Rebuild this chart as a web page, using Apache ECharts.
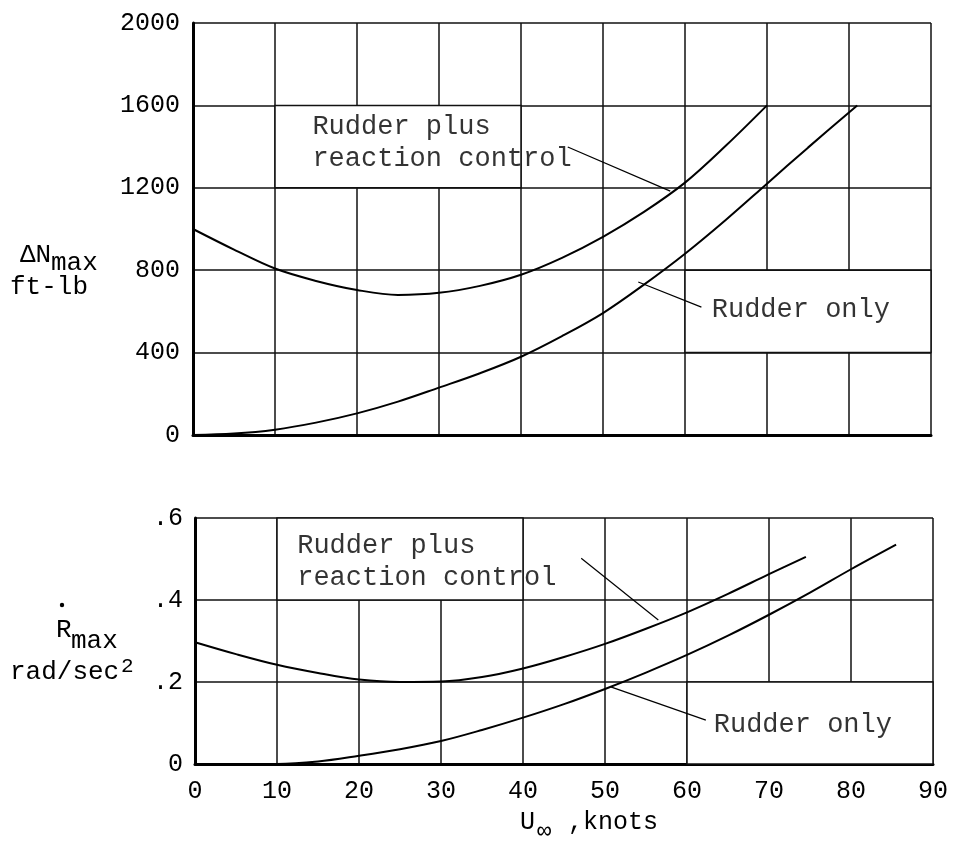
<!DOCTYPE html>
<html lang="en">
<head>
<meta charset="UTF-8">
<title>Rudder control moments</title>
<script src="https://cdn.jsdelivr.net/npm/echarts@6/dist/echarts.min.js"></script>
<style>
  html, body { margin: 0; padding: 0; background: #fff; }
  #chart { width: 957px; height: 843px; }
</style>
</head>
<body>
<div id="chart"></div>
<script>
// ---- data ----
const xTicks = [0, 10, 20, 30, 40, 50, 60, 70, 80, 90];
const momentTicks = [0, 400, 800, 1200, 1600, 2000];
const accelTicks = ['0', '.2', '.4', '.6'];

// top panel: delta N max, ft-lb
const speedTopPlus = [0, 5, 10, 15, 20, 25, 30, 35, 40, 45, 50, 55, 60, 65, 70];
const momentTopPlus = [1000, 900, 808, 748, 704, 680, 690, 724, 778, 860, 962, 1083, 1225, 1405, 1600];
const speedTopRudder = [0, 5, 10, 15, 20, 25, 30, 35, 40, 45, 50, 55, 60, 65, 70, 75, 81];
const momentTopRudder = [0, 7, 26, 60, 105, 162, 230, 300, 380, 480, 592, 730, 880, 1045, 1220, 1395, 1600];

// bottom panel: R-dot max, rad/sec^2
const speedBotPlus = [0, 5, 10, 15, 20, 25, 30, 35, 40, 45, 50, 55, 60, 65, 70, 74.5];
const accelBotPlus = [0.297, 0.268, 0.242, 0.222, 0.206, 0.200, 0.201, 0.212, 0.233, 0.261, 0.293, 0.330, 0.370, 0.415, 0.463, 0.505];
const speedBotRudder = [0, 10, 15, 20, 25, 30, 35, 40, 45, 50, 55, 60, 65, 70, 75, 80, 85.5];
const accelBotRudder = [0, 0, 0.006, 0.020, 0.036, 0.056, 0.083, 0.113, 0.146, 0.183, 0.223, 0.266, 0.313, 0.364, 0.418, 0.475, 0.535];

// annotations (data coordinates)
const topNotes = [
  { value: [14.5, 1417], name: 'Rudder plus\nreaction control' },
  { value: [63.2, 607], name: 'Rudder only' }
];
const topLeaders = [[[45.7, 1398], [58.2, 1184]], [[54.3, 743], [62.0, 621]]];
const topBoxes = [[[10, 1200], [40, 1600]], [[60, 400], [90, 800]]];

const botNotes = [
  { value: [12.4, 0.493], name: 'Rudder plus\nreaction control' },
  { value: [63.2, 0.095], name: 'Rudder only' }
];
const botLeaders = [[[47.1, 0.502], [56.5, 0.351]], [[50.7, 0.188], [62.3, 0.107]]];
const botBoxes = [[[10, 0.4], [40, 0.6]], [[60, 0], [90, 0.2]]];

const FONT = 'Liberation Mono, DejaVu Sans Mono, monospace';

function zip(xs, ys) { return xs.map((x, i) => [x, ys[i]]); }

function xAxisFor(grid, labels) {
  return {
    type: 'value', gridIndex: grid, min: 0, max: 90, interval: 10,
    axisLine: { show: true, lineStyle: { color: '#000', width: 3 } },
    axisTick: { show: false },
    axisLabel: {
      show: labels, margin: 15, color: '#000', fontFamily: FONT, fontSize: 25,
      formatter: v => xTicks.indexOf(v) >= 0 ? String(v) : ''
    },
    splitLine: { show: true, lineStyle: { color: '#111', width: 1.5 } }
  };
}

function curve(name, x, y, idx) {
  return {
    name: name, type: 'line', xAxisIndex: idx, yAxisIndex: idx,
    data: zip(x, y), smooth: 0.35, showSymbol: false, z: 4,
    lineStyle: { color: '#000', width: 2 }
  };
}

function boxes(list, idx) {
  return {
    type: 'line', xAxisIndex: idx, yAxisIndex: idx, data: [], z: 1, silent: true,
    markArea: {
      silent: true,
      itemStyle: { color: '#fff', borderColor: '#111', borderWidth: 1.5 },
      data: list.map(b => [{ coord: b[0] }, { coord: b[1] }])
    }
  };
}

function notes(list, leaders, idx) {
  return {
    type: 'scatter', xAxisIndex: idx, yAxisIndex: idx, data: list, z: 5,
    symbolSize: 1, itemStyle: { color: 'rgba(0,0,0,0)' }, silent: true,
    label: {
      show: true, position: 'right', distance: 0, formatter: '{b}',
      color: '#000', fontFamily: FONT, fontSize: 27, lineHeight: 32, align: 'left'
    },
    markLine: {
      silent: true, symbol: ['none', 'none'],
      lineStyle: { color: '#000', width: 1.2, type: 'solid' },
      label: { show: false },
      data: leaders.map(l => [{ coord: l[0] }, { coord: l[1] }])
    }
  };
}

const chart = echarts.init(document.getElementById('chart'));

chart.setOption({
  backgroundColor: '#fff',
  animation: false,
  grid: [
    { left: 193, top: 23, width: 738, height: 412 },
    { left: 195, top: 518, width: 738, height: 246 }
  ],
  xAxis: [xAxisFor(0, false), xAxisFor(1, true)],
  yAxis: [
    {
      type: 'value', gridIndex: 0, min: momentTicks[0], max: momentTicks[momentTicks.length - 1], interval: 400,
      axisLine: { show: true, lineStyle: { color: '#000', width: 3 } },
      axisTick: { show: false },
      axisLabel: {
        margin: 13, color: '#000', fontFamily: FONT, fontSize: 25,
        formatter: v => String(v)
      },
      splitLine: { show: true, lineStyle: { color: '#111', width: 1.5 } }
    },
    {
      type: 'value', gridIndex: 1, min: 0, max: 0.6, interval: 0.2,
      axisLine: { show: true, lineStyle: { color: '#000', width: 3 } },
      axisTick: { show: false },
      axisLabel: {
        margin: 12, color: '#000', fontFamily: FONT, fontSize: 25,
        formatter: v => accelTicks[Math.round(v * 5)]
      },
      splitLine: { show: true, lineStyle: { color: '#111', width: 1.5 } }
    }
  ],
  graphic: [
    { type: 'text', x: 20, y: 255, style: { text: '\u0394N', fill: '#000', fontFamily: FONT, fontSize: 26, verticalAlign: 'middle' } },
    { type: 'text', x: 51, y: 263, style: { text: 'max', fill: '#000', fontFamily: FONT, fontSize: 26, verticalAlign: 'middle' } },
    { type: 'text', x: 10, y: 287, style: { text: 'ft-lb', fill: '#000', fontFamily: FONT, fontSize: 26, verticalAlign: 'middle' } },

    { type: 'circle', shape: { cx: 62, cy: 605, r: 2.2 }, style: { fill: '#000' } },
    { type: 'text', x: 56, y: 630, style: { text: 'R', fill: '#000', fontFamily: FONT, fontSize: 26, verticalAlign: 'middle' } },
    { type: 'text', x: 71, y: 641, style: { text: 'max', fill: '#000', fontFamily: FONT, fontSize: 26, verticalAlign: 'middle' } },
    { type: 'text', x: 10, y: 672, style: { text: 'rad/sec', fill: '#000', fontFamily: FONT, fontSize: 26, verticalAlign: 'middle' } },
    { type: 'text', x: 121, y: 666, style: { text: '2', fill: '#000', fontFamily: FONT, fontSize: 21, verticalAlign: 'middle' } },

    { type: 'text', x: 520, y: 822, style: { text: 'U', fill: '#000', fontFamily: FONT, fontSize: 25, verticalAlign: 'middle' } },
    { type: 'text', x: 537, y: 832, style: { text: '\u221E', fill: '#000', fontFamily: FONT, fontSize: 24, verticalAlign: 'middle' } },
    { type: 'text', x: 553, y: 822, style: { text: ' ,knots', fill: '#000', fontFamily: FONT, fontSize: 25, verticalAlign: 'middle' } }
  ],
  series: [
    boxes(topBoxes, 0),
    boxes(botBoxes, 1),
    curve('Rudder plus reaction control', speedTopPlus, momentTopPlus, 0),
    curve('Rudder only', speedTopRudder, momentTopRudder, 0),
    curve('Rudder plus reaction control', speedBotPlus, accelBotPlus, 1),
    curve('Rudder only', speedBotRudder, accelBotRudder, 1),
    notes(topNotes, topLeaders, 0),
    notes(botNotes, botLeaders, 1)
  ]
});
</script>
</body>
</html>
